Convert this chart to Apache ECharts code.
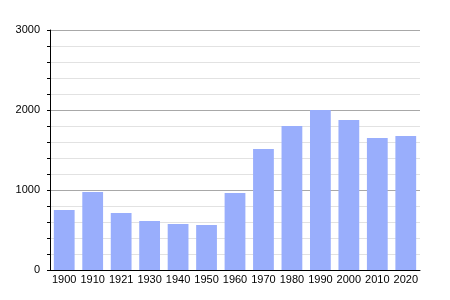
<!DOCTYPE html>
<html><head><meta charset="utf-8">
<script src="https://cdn.jsdelivr.net/npm/echarts@6/dist/echarts.min.js"></script>
<style>html,body{margin:0;padding:0;background:#fff}#c{width:450px;height:300px}</style>
</head><body><div id="c"></div>
<script>
const years = ['1900','1910','1921','1930','1940','1950','1960','1970','1980','1990','2000','2010','2020'];
const population = [750, 975, 712, 612, 575, 562, 962, 1512, 1800, 2000, 1875, 1650, 1675];
const yTicks = [0, 1000, 2000, 3000];

const chart = echarts.init(document.getElementById('c'), null, {renderer:'canvas'});
chart.setOption({
  animation: false,
  backgroundColor: '#fff',
  grid: {left: 50, right: 30, top: 30, bottom: 30, containLabel: false},
  xAxis: {
    type: 'category', data: years,
    axisLine: {lineStyle: {color: '#000', width: 1}},
    axisTick: {show: false},
    axisLabel: {color: '#000', fontSize: 11, fontFamily: 'Liberation Sans, Arial, sans-serif', margin: 4, interval: 0},
    splitLine: {show: false}
  },
  yAxis: {
    type: 'value', min: yTicks[0], max: yTicks[yTicks.length-1], interval: 1000,
    axisLine: {show: true, lineStyle: {color: '#000', width: 1}},
    axisTick: {show: true, length: 3, lineStyle: {color: '#000'}},
    minorTick: {show: true, splitNumber: 5, length: 3, lineStyle: {color: '#000'}},
    axisLabel: {color: '#000', fontSize: 11, fontFamily: 'Liberation Sans, Arial, sans-serif', margin: 10,
      formatter: v => String(v)},
    splitLine: {show: true, lineStyle: {color: '#a8a8a8', width: 1}},
    minorSplitLine: {show: true, lineStyle: {color: '#e2e2e2', width: 1}}
  },
  series: [{
    type: 'bar', data: population,
    barCategoryGap: '27%',
    itemStyle: {color: '#99aefc'}
  }]
});
</script></body></html>
